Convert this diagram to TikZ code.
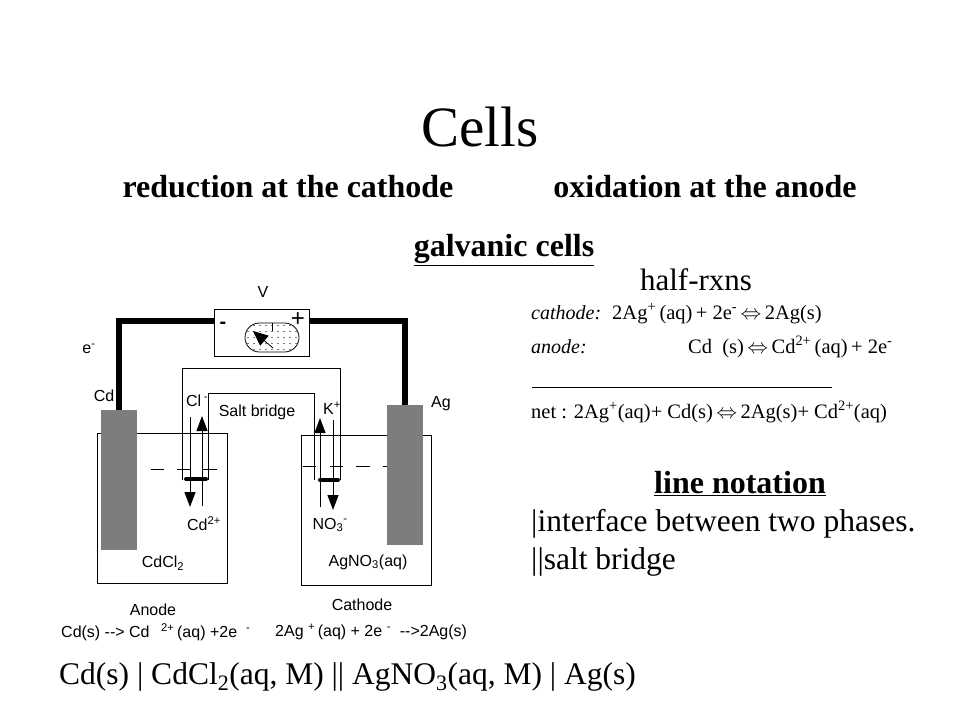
\documentclass[tikz,border=0pt]{standalone}
\usepackage{fontspec}
\setmainfont{Liberation Serif}
\newfontfamily\labelfont{Liberation Sans}
\definecolor{ElectrodeGray}{RGB}{125, 125, 125}
\usetikzlibrary{arrows.meta, shapes.misc}

\begin{document}
\begin{tikzpicture}[x=1pt, y=-1pt,
	heading/.style={font=\fontsize{32}{36}\selectfont\bfseries, inner sep=0pt},
	body/.style={font=\fontsize{31.5}{36}\selectfont, inner sep=0pt, anchor=west},
	eqn/.style={font=\fontsize{20.5}{24}\selectfont, inner sep=0pt, anchor=base west},
	lbl/.style={font=\labelfont\fontsize{16}{19}\selectfont, inner sep=0pt},
	beaker/.style={draw, line width=1pt, minimum width=130pt, minimum height=150pt, inner sep=0pt},
	electrode/.style={fill=ElectrodeGray, minimum width=36pt, minimum height=140pt, inner sep=0pt},
	wire/.style={line width=5.5pt, line join=miter},
	thin line/.style={line width=1pt},
	ion/.style={line width=1pt, -{Triangle[width=11pt, length=15pt]}},
	plug/.style={line width=4pt, line cap=round}]
	\useasboundingbox (0,0) rectangle (960,720);

	% headings
	\node[font=\fontsize{57}{60}\selectfont, inner sep=0pt] (title) at (480,127) {Cells};
	\node[heading] (red) at (288,187) {reduction at the cathode};
	\node[heading] (ox) at (705,187) {oxidation at the anode};
	\node[heading] (galv) at (504,250) {\underline{galvanic cells}};

	% beakers and electrodes
	\node[beaker] (left) at (162,508) {};
	\node[beaker] (right) at (366,510) {};
	\node[electrode] (cd) at (119,480) {};
	\node[electrode] (ag) at (405,475) {};
	\foreach \x/\y/\w in {151/469/13, 177/469/13, 203/469/14, 303/466/13, 330/466/13, 356/466/14, 383/466/4}
		\draw[thin line] (\x,\y) -- ++(\w,0);

	% meter
	\node[draw, line width=1pt, minimum width=95pt, minimum height=47pt, inner sep=0pt] (meter) at (261.5,332.5) {};
	\node[draw, line width=0.8pt, rounded rectangle, minimum width=54pt, minimum height=29pt, inner sep=0pt,
		path picture={\foreach \x in {-24,-18,...,24} \foreach \y in {-12,-6,...,12} \fill (\x,\y) circle (0.7);}] (dial) at (272,337.5) {};
	\coordinate (needleA) at (273,348);
	\coordinate (needleB) at (253,331);
	\draw[line width=0.8pt, -{Triangle[width=13pt, length=15pt]}] (needleA) -- (needleB);
	\draw[line width=1pt] (dial.north) -- ++(0,8);
	\node[font=\labelfont\bfseries\fontsize{20}{20}\selectfont, inner sep=0pt] (minus) at (223,325) {-};
	\node[font=\labelfont\fontsize{24}{24}\selectfont, inner sep=0pt] (plus) at (298,320) {+};

	% wires
	\coordinate (cornerL) at (119,321);
	\coordinate (cornerR) at (405,321);
	\draw[wire] (cd.north) -- (cornerL) -- (meter.west |- cornerL);
	\draw[wire] (ag.north) -- (cornerR) -- (meter.east |- cornerR);

	% salt bridge
	\coordinate (bridgeA) at (182,480);
	\coordinate (bridgeB) at (182,368);
	\coordinate (bridgeC) at (340,368);
	\coordinate (bridgeD) at (340,480);
	\coordinate (bridgeE) at (314,480);
	\coordinate (bridgeF) at (314,393);
	\coordinate (bridgeG) at (208,393);
	\coordinate (bridgeH) at (208,480);
	\draw[thin line] (bridgeA) -- (bridgeB) -- (bridgeC) -- (bridgeD) (bridgeE) -- (bridgeF) -- (bridgeG) -- (bridgeH);
	\draw[plug] (186,479) -- (206,479);
	\draw[plug] (320,480) -- (338,480);

	% ions
	\coordinate (cdA) at (190,417);
	\coordinate (cdB) at (190,507);
	\coordinate (clA) at (202,506);
	\coordinate (clB) at (202,416);
	\coordinate (noA) at (320,507);
	\coordinate (noB) at (320,418);
	\coordinate (kA) at (333,420);
	\coordinate (kB) at (333,510);
	\draw[ion] (cdA) -- (cdB);
	\draw[ion] (clA) -- (clB);
	\draw[ion] (noA) -- (noB);
	\draw[ion] (kA) -- (kB);

	% cell labels
	\node[lbl] (v) at (263,292) {V};
	\node[lbl] (elec) at (89,349) {e\textsuperscript{-}};
	\node[lbl] (cdname) at (104,396) {Cd};
	\node[lbl] (agname) at (441,404) {Ag};
	\node[lbl] (cl) at (197,401) {Cl\,\textsuperscript{-}};
	\node[lbl] (k) at (332,408) {K\textsuperscript{+}};
	\node[lbl] (salt) at (257,412) {Salt bridge};
	\node[lbl] (cdion) at (204,524) {Cd\textsuperscript{2+}};
	\node[lbl] (noion) at (330,525) {NO\textsubscript{3}\textsuperscript{-}};
	\node[lbl] (cdcl) at (163,563) {CdCl\textsubscript{2}};
	\node[lbl] (agno) at (368,562) {AgNO\textsubscript{3}(aq)};
	\node[lbl] (anode) at (153,610) {Anode};
	\node[lbl] (cathode) at (362,605) {Cathode};
	\node[lbl, anchor=west] (anodeA) at (61,633) {Cd(s) -{}-> Cd};
	\node[lbl, anchor=west] (anodeB) at (161,632) {\textsuperscript{2+}\,(aq) +2e\ \ \textsuperscript{-}};
	\node[lbl, anchor=west] (cathodeA) at (275,632) {2Ag \textsuperscript{+}\,(aq) + 2e \textsuperscript{-}\ \ -{}->2Ag(s)};

	% half reactions
	\node[font=\fontsize{31}{34}\selectfont, inner sep=0pt] (half) at (696,280) {half-rxns};
	\node[eqn, font=\fontsize{20}{24}\selectfont\itshape] (cathA) at (531,319) {cathode:};
	\node[eqn] (cathB) at (612,319) {2Ag\textsuperscript{+}\,(aq)\,+ 2e\textsuperscript{-}\,$\Leftrightarrow$\,2Ag(s)};
	\node[eqn, font=\fontsize{20}{24}\selectfont\itshape] (anA) at (531,353) {anode:};
	\node[eqn] (anB) at (688,353) {Cd\ \ (s)\,$\Leftrightarrow$\,Cd\textsuperscript{2+}\,(aq)\,+ 2e\textsuperscript{-}};
	\coordinate (ruleA) at (532,387);
	\coordinate (ruleB) at (832,387);
	\draw[thin line] (ruleA) -- (ruleB);
	\node[eqn] (net) at (531,418) {net : 2Ag\textsuperscript{+}(aq)+ Cd(s)\,$\Leftrightarrow$\,2Ag(s)+ Cd\textsuperscript{2+}(aq)};

	% line notation
	\node[heading] (notation) at (740,484) {\underline{line notation}};
	\node[body] (iface) at (531,524) {|interface between two phases.};
	\node[body] (bridge) at (531,562) {||salt bridge};
	\node[body] (cellline) at (59,677) {Cd(s) | CdCl\textsubscript{2}(aq, M) || AgNO\textsubscript{3}(aq, M) | Ag(s)};
\end{tikzpicture}
\end{document}
